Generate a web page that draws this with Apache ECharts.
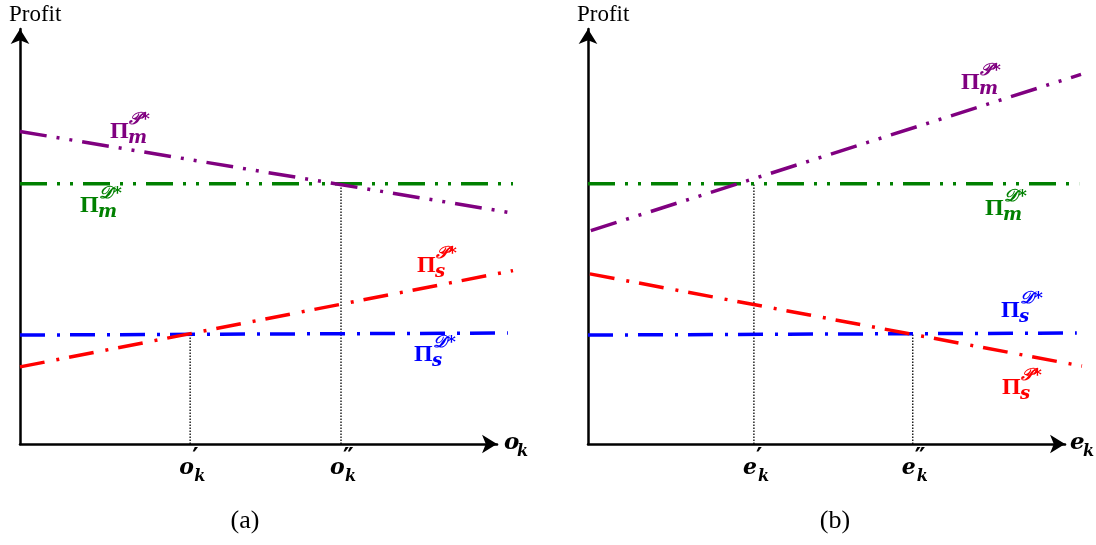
<!DOCTYPE html>
<html>
<head>
<meta charset="utf-8">
<script src="https://cdn.jsdelivr.net/npm/echarts@6/dist/echarts.min.js"></script>
<style>
html,body{margin:0;padding:0;background:#fff;}
#main{width:1096px;height:545px;}
</style>
</head>
<body>
<div id="main"></div>
<script>
// ---- Data (abstract units: x 0..10 on the drawn axis, y 0..10) ----
// Panel (a): profit vs o_k
const aPiMP = [[0, 7.66], [10.43, 5.67]];
const aPiMD = [[0, 6.38], [10.49, 6.38]];
const aPiSP = [[0, 1.89], [10.49, 4.25]];
const aPiSD = [[0, 2.67], [10.38, 2.72]];
const aMarks = [3.62, 6.83];          // o'_k, o''_k
const aMarkTops = [2.70, 6.38];
const aMarkLabels = ["′", "″"];
// Panel (b): profit vs e_k
const bPiMP = [[0.06, 5.23], [10.49, 9.06]];
const bPiMD = [[0, 6.38], [10.45, 6.38]];
const bPiSP = [[0.04, 4.17], [10.51, 1.91]];
const bPiSD = [[0, 2.67], [10.40, 2.72]];
const bMarks = [3.53, 6.91];          // e'_k, e''_k
const bMarkTops = [6.38, 2.72];
const bMarkLabels = ["′", "″"];
const panelNames = ["(a)", "(b)"];
const axisVars = ["o", "e"];
const DATA_XMAX = 10.6;   // curves run a little past the arrow tip
const DATA_YMAX = 10;
const AXIS_XMAX = 10.15;  // arrow tip of the horizontal axis
const AXIS_YMAX = 10.17;  // arrow tip of the vertical axis

const C = {purple:'#800080', green:'#008000', red:'#ff0000', blue:'#0000ff'};
const DDOT = [27,10,3,10,3,10];
const DDASH = [25,12,3,10];

const chart = echarts.init(document.getElementById('main'), null, {renderer:'canvas'});

// pixel layout: 47 px per x unit, 40.8 px per y unit
const GL = [20, 588], GB = 444, PX = 47, PY = 40.8;

function visAxis(gi, max){
  return {type:'value', gridIndex:gi, min:0, max:max,
    axisLine:{show:true, onZero:false, symbol:['none','arrow'], symbolSize:[14,15],
      lineStyle:{color:'#000', width:2.5}},
    axisTick:{show:false}, axisLabel:{show:false}, splitLine:{show:false}};
}
function hidAxis(gi, max){
  return {type:'value', gridIndex:gi, min:0, max:max, show:false, splitLine:{show:false}};
}
function ln(gi, data, color, dash){
  return {type:'line', xAxisIndex:gi, yAxisIndex:gi, data:data, showSymbol:false, symbol:'none',
    silent:true, animation:false, z:3,
    lineStyle:{color:color, width:3.5, type:dash, cap:'butt'}};
}
function drops(gi, xs, tops){
  return xs.map((x,i)=>({type:'line', xAxisIndex:gi, yAxisIndex:gi, data:[[x,0],[x,tops[i]]],
    showSymbol:false, symbol:'none', silent:true, animation:false, z:1,
    lineStyle:{color:'#000', width:1.3, type:[1.5,1.5]}}));
}

const series = [
  ...drops(2, aMarks, aMarkTops),
  ln(2, aPiMD, C.green, DDOT),
  ln(2, aPiMP, C.purple, DDOT),
  ln(2, aPiSD, C.blue, DDASH),
  ln(2, aPiSP, C.red, DDASH),
  ...drops(3, bMarks, bMarkTops),
  ln(3, bPiMD, C.green, DDOT),
  ln(3, bPiMP, C.purple, DDOT),
  ln(3, bPiSD, C.blue, DDASH),
  ln(3, bPiSP, C.red, DDASH)
];

function gridFor(left, xmax, ymax){
  return {left:left, top:GB - PY*ymax, width:PX*xmax, height:PY*ymax};
}
chart.setOption({
  backgroundColor:'#fff',
  animation:false,
  grid:[
    gridFor(GL[0], AXIS_XMAX, AXIS_YMAX),
    gridFor(GL[1], AXIS_XMAX, AXIS_YMAX),
    gridFor(GL[0], DATA_XMAX, DATA_YMAX),
    gridFor(GL[1], DATA_XMAX, DATA_YMAX)
  ],
  xAxis:[visAxis(0, AXIS_XMAX), visAxis(1, AXIS_XMAX), hidAxis(2, DATA_XMAX), hidAxis(3, DATA_XMAX)],
  yAxis:[visAxis(0, AXIS_YMAX), visAxis(1, AXIS_YMAX), hidAxis(2, DATA_YMAX), hidAxis(3, DATA_YMAX)],
  series:series
});

// ---- Text labels ----
const SERIF = '"Liberation Serif", "DejaVu Serif", serif';
const MATH = '"DejaVu Serif", "Liberation Serif", serif';
function txt(x, y, s, opt){
  return {type:'text', x:x, y:y, silent:true, z:10,
    style:Object.assign({text:s, fill:'#000', font:'18px ' + SERIF, textAlign:'left', textVerticalAlign:'middle'}, opt||{})};
}
function pi(x, y, sub, sup, color){
  // Π with stacked superscript and subscript
  return [
    txt(x, y, 'Π', {fill:color, font:'bold 24px ' + SERIF}),
    txt(x+19, y-12, sup + '*', {fill:color, font:'italic bold 17px ' + MATH}),
    txt(x+18, y+6, sub, {fill:color, font:'italic bold 18px ' + MATH})
  ];
}
function tickLbl(cx, y, v, prime){
  return [
    txt(cx-11, y, v, {font:'italic bold 22px ' + MATH}),
    txt(cx+2, y-9, prime, {font:'bold 24px ' + MATH}),
    txt(cx+4, y+9, 'k', {font:'italic bold 16px ' + MATH})
  ];
}
const els = [];
els.push(txt(9, 15, 'Profit', {font:'23px ' + SERIF}));
els.push(txt(577, 15, 'Profit', {font:'23px ' + SERIF}));
// axis variable names
els.push(...[[0,504],[1,1070]].flatMap(([i,x]) => [
  txt(x, 443, axisVars[i], {font:'italic bold 23px ' + MATH}),
  txt(x+13, 452, 'k', {font:'italic bold 16px ' + MATH})
]));
// tick labels under drop lines
aMarks.forEach((m,i)=>{
  const p = chart.convertToPixel({gridIndex:2}, [m, 0]);
  els.push(...tickLbl(p[0], 468, axisVars[0], aMarkLabels[i]));
});
bMarks.forEach((m,i)=>{
  const p = chart.convertToPixel({gridIndex:3}, [m, 0]);
  els.push(...tickLbl(p[0], 468, axisVars[1], bMarkLabels[i]));
});
// series labels
els.push(...pi(110, 132, 'm', '𝒫', C.purple));
els.push(...pi(80, 206, 'm', '𝒟', C.green));
els.push(...pi(417, 266, 's', '𝒫', C.red));
els.push(...pi(414, 355, 's', '𝒟', C.blue));
els.push(...pi(961, 83, 'm', '𝒫', C.purple));
els.push(...pi(985, 209, 'm', '𝒟', C.green));
els.push(...pi(1001, 311, 's', '𝒟', C.blue));
els.push(...pi(1002, 388, 's', '𝒫', C.red));
// panel captions
els.push(txt(245, 521, panelNames[0], {font:'26px ' + SERIF, textAlign:'center'}));
els.push(txt(835, 521, panelNames[1], {font:'26px ' + SERIF, textAlign:'center'}));

chart.setOption({graphic:els});
</script>
</body>
</html>
